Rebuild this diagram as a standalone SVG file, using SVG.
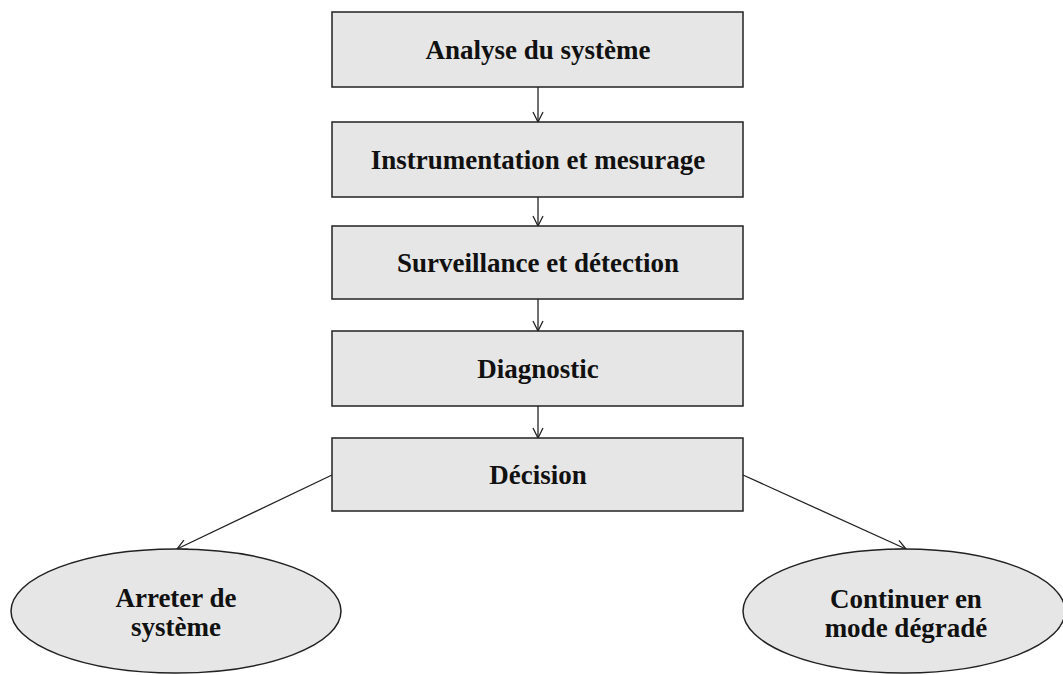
<svg xmlns="http://www.w3.org/2000/svg" width="1063" height="675" viewBox="0 0 1063 675">
  <style>
    .box { fill: #e6e6e6; stroke: #222; stroke-width: 1.5; }
    .lbl { font-family: "Liberation Serif", "Times New Roman", serif; font-weight: bold; font-size: 27px; fill: #111; text-anchor: middle; }
    .edge { stroke: #222; stroke-width: 1.3; fill: none; marker-end: url(#arrow); }
  </style>
  <defs>
    <marker id="arrow" viewBox="0 0 12 12" refX="11" refY="6" markerWidth="12" markerHeight="12" markerUnits="userSpaceOnUse" orient="auto">
      <path d="M1,1 L11,6 L1,11" fill="none" stroke="#222" stroke-width="1.3"/>
    </marker>
  </defs>
  <rect width="1063" height="675" fill="#fff"/>

  <g id="connectors">
    <line class="edge" x1="538" y1="87" x2="538" y2="122"/>
    <line class="edge" x1="538" y1="197" x2="538" y2="226"/>
    <line class="edge" x1="538" y1="299" x2="538" y2="331"/>
    <line class="edge" x1="538" y1="406" x2="538" y2="438"/>
    <line class="edge" x1="332" y1="475" x2="177" y2="549"/>
    <line class="edge" x1="743" y1="475" x2="906" y2="549"/>
  </g>

  <g id="analyse">
    <rect class="box" x="332" y="12" width="411" height="75"/>
    <text class="lbl" x="538" y="59">Analyse du système</text>
  </g>
  <g id="instrumentation">
    <rect class="box" x="332" y="122" width="411" height="75"/>
    <text class="lbl" x="538" y="169">Instrumentation et mesurage</text>
  </g>
  <g id="surveillance">
    <rect class="box" x="332" y="226" width="411" height="73"/>
    <text class="lbl" x="538" y="272">Surveillance et détection</text>
  </g>
  <g id="diagnostic">
    <rect class="box" x="332" y="331" width="411" height="75"/>
    <text class="lbl" x="538" y="378">Diagnostic</text>
  </g>
  <g id="decision">
    <rect class="box" x="332" y="438" width="411" height="73"/>
    <text class="lbl" x="538" y="484">Décision</text>
  </g>
  <g id="arreter">
    <ellipse class="box" cx="176" cy="611" rx="165" ry="62"/>
    <text class="lbl" x="176" y="607">Arreter de</text>
    <text class="lbl" x="176" y="636">système</text>
  </g>
  <g id="continuer">
    <ellipse class="box" cx="904" cy="611" rx="161" ry="62"/>
    <text class="lbl" x="906" y="608">Continuer en</text>
    <text class="lbl" x="906" y="637">mode dégradé</text>
  </g>
</svg>
